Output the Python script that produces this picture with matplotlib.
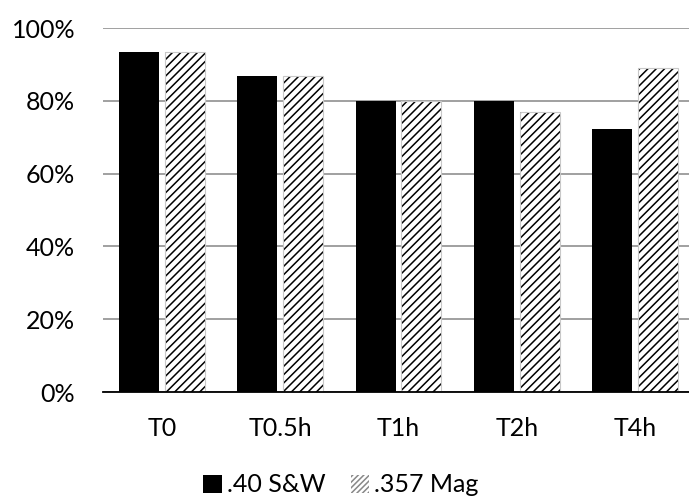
import numpy as np
import matplotlib
matplotlib.use('Agg')
import matplotlib.pyplot as plt
from matplotlib.ticker import PercentFormatter
from matplotlib.patches import Patch

plt.rcParams['font.family'] = ['Lato', 'DejaVu Sans']
plt.rcParams['hatch.linewidth'] = 1.1

categories = ['T0', 'T0.5h', 'T1h', 'T2h', 'T4h']
sw_40 = [93.3, 86.7, 80.0, 80.0, 72.2]
mag_357 = [93.3, 86.7, 80.0, 76.9, 88.9]

fig = plt.figure(figsize=(6.89, 5.03), dpi=100)
ax = fig.add_axes([103/689, (503-392)/503, 591/689, 364/503])

x = np.arange(len(categories))
w = 0.338
off = 0.194

ax.bar(x - off, sw_40, w, color='black', edgecolor='black', linewidth=0, zorder=3)
# hatched bars: black hatch, light grey outline drawn on top
ax.bar(x + off, mag_357, w, color='white', edgecolor='black', hatch='////', linewidth=0, zorder=3)
ax.bar(x + off, mag_357, w, fill=False, edgecolor='#c8c8c8', linewidth=0.8, zorder=4)

ax.set_xlim(-0.5, len(categories) - 0.5)
ax.set_ylim(0, 100)
ax.set_yticks(np.arange(0, 101, 20))
ax.yaxis.set_major_formatter(PercentFormatter(decimals=0))
ax.set_xticks(x)
ax.set_xticklabels(categories)

ax.yaxis.grid(True, color='#868686', linewidth=1.1, zorder=0)
ax.set_axisbelow(True)
for s in ['top', 'right', 'left']:
    ax.spines[s].set_visible(False)
ax.spines['bottom'].set_color('black')
ax.spines['bottom'].set_linewidth(1.3)
ax.spines['bottom'].set_zorder(5)
ax.tick_params(axis='both', length=0, labelsize=18, colors='black')
ax.tick_params(axis='y', pad=20)
ax.tick_params(axis='x', pad=18)

handles = [Patch(facecolor='black', edgecolor='black', linewidth=0),
           Patch(facecolor='white', edgecolor='#888888', hatch='//////', linewidth=0)]
fig.legend(handles, ['.40 S&W', '.357 Mag'], loc='center', bbox_to_anchor=(341/689, 1 - 485/503),
           ncol=2, frameon=False, fontsize=18, handlelength=0.75, handleheight=0.75,
           handletextpad=0.2, columnspacing=1.0)

fig.savefig('out.png', dpi=100)
